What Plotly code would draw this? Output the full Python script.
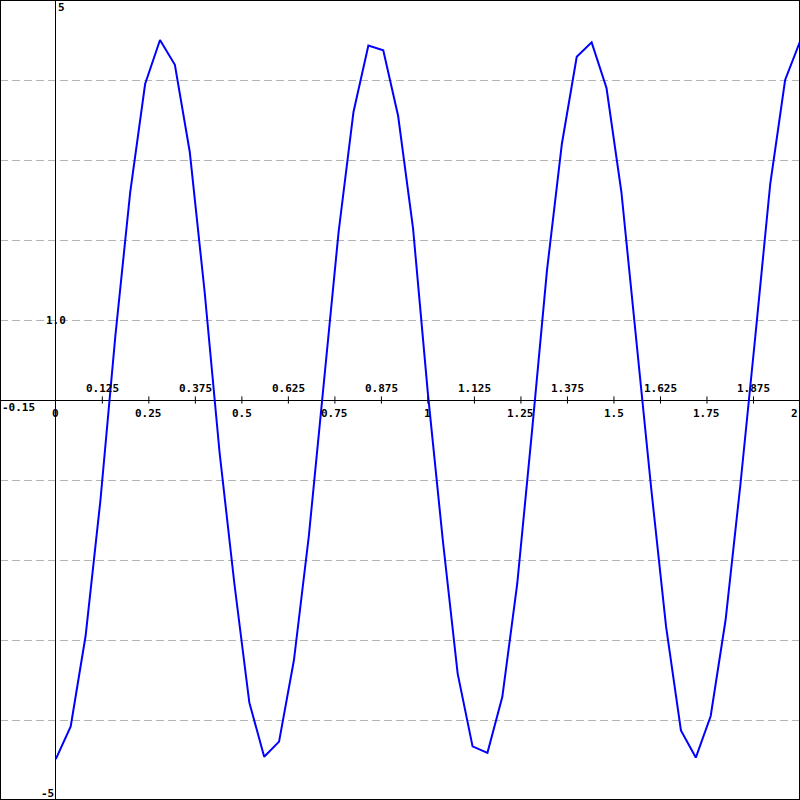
import plotly.graph_objects as go

x_vals = [0.00, 0.04, 0.08, 0.12, 0.16, 0.20, 0.24, 0.28, 0.32, 0.36,
          0.40, 0.44, 0.48, 0.52, 0.56, 0.60, 0.64, 0.68, 0.72, 0.76,
          0.80, 0.84, 0.88, 0.92, 0.96, 1.00, 1.04, 1.08, 1.12, 1.16,
          1.20, 1.24, 1.28, 1.32, 1.36, 1.40, 1.44, 1.48, 1.52, 1.56,
          1.60, 1.64, 1.68, 1.72, 1.76, 1.80, 1.84, 1.88, 1.92, 1.96, 2.00]
y_vals = [-4.49, -4.08, -2.95, -1.25, 0.80, 2.60, 3.95, 4.50, 4.19, 3.10,
          1.35, -0.65, -2.30, -3.78, -4.46, -4.27, -3.25, -1.70, 0.20, 2.10,
          3.60, 4.43, 4.37, 3.55, 2.15, 0.08, -1.75, -3.42, -4.33, -4.41,
          -3.71, -2.30, -0.38, 1.62, 3.20, 4.29, 4.47, 3.90, 2.60, 0.72,
          -1.10, -2.83, -4.13, -4.47, -3.95, -2.75, -1.05, 0.80, 2.70, 4.00, 4.48]

x_ticks_below = [0.25, 0.5, 0.75, 1, 1.25, 1.5, 1.75]
x_labels_below = ["0.25", "0.5", "0.75", "1", "1.25", "1.5", "1.75"]
x_ticks_above = [0.125, 0.375, 0.625, 0.875, 1.125, 1.375, 1.625, 1.875]
x_labels_above = ["0.125", "0.375", "0.625", "0.875", "1.125", "1.375", "1.625", "1.875"]
x_min, x_max = -0.15, 2
y_min, y_max = -5, 5

FONT = dict(family="DejaVu Sans Mono", size=11, color="black")

fig = go.Figure()
fig.add_trace(go.Scatter(x=x_vals, y=y_vals, mode="lines",
                         line=dict(color="#0000ff", width=2), showlegend=False,
                         hoverinfo="skip"))

# tick marks on x axis
tick_positions = sorted(x_ticks_below + x_ticks_above)
for t in tick_positions:
    fig.add_shape(type="line", xref="x", yref="y", x0=t, x1=t, y0=-0.045, y1=0.045,
                  line=dict(color="black", width=1))

# frame
fig.add_shape(type="rect", xref="paper", yref="paper", x0=0, x1=1, y0=0, y1=1,
              line=dict(color="black", width=2))

ann = []
for t, lab in zip(x_ticks_below, x_labels_below):
    ann.append(dict(x=t, y=0, text="<b>%s</b>" % lab, showarrow=False, yshift=-13,
                    xanchor="center", yanchor="middle", font=FONT))
for t, lab in zip(x_ticks_above, x_labels_above):
    ann.append(dict(x=t, y=0, text="<b>%s</b>" % lab, showarrow=False, yshift=12,
                    xanchor="center", yanchor="middle", font=FONT))
ann.append(dict(x=0, y=0, text="<b>0</b>", showarrow=False, yshift=-13,
                xanchor="center", yanchor="middle", font=FONT))
ann.append(dict(x=x_min, y=0, text="<b>-0.15</b>", showarrow=False, yshift=-7,
                xanchor="left", yanchor="middle", font=FONT))
ann.append(dict(x=x_max, y=0, text="<b>2</b>", showarrow=False, yshift=-13,
                xanchor="right", yanchor="middle", font=FONT))
ann.append(dict(x=0, y=1, text="<b>1.0</b>", showarrow=False,
                xanchor="center", yanchor="middle", font=FONT))
ann.append(dict(x=0, y=y_max, text="<b>5</b>", showarrow=False, yshift=-7,
                xanchor="left", yanchor="middle", font=FONT))
ann.append(dict(x=0, y=y_min, text="<b>-5</b>", showarrow=False, yshift=7,
                xanchor="right", yanchor="middle", font=FONT))

fig.update_layout(
    width=800, height=800,
    margin=dict(l=0, r=0, t=0, b=0, pad=0),
    paper_bgcolor="white", plot_bgcolor="white",
    annotations=ann,
    xaxis=dict(range=[x_min, x_max], showgrid=False, zeroline=True,
               zerolinecolor="black", zerolinewidth=1, showticklabels=False,
               ticks="", fixedrange=True),
    yaxis=dict(range=[y_min, y_max], showgrid=True, dtick=1, tick0=0,
               gridcolor="#b4b4b4", griddash="8px,4px", gridwidth=1,
               zeroline=True, zerolinecolor="black", zerolinewidth=1,
               showticklabels=False, ticks="", fixedrange=True),
)

fig.write_html("out.html", config={"displayModeBar": False},
               post_script="document.body.style.margin='0px';document.body.style.overflow='hidden';")
